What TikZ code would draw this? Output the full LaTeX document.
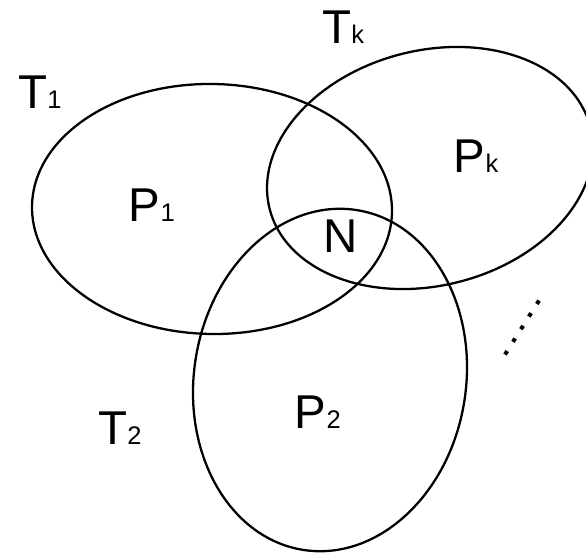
\documentclass[tikz,border=0pt]{standalone}
\usepackage{fontspec}
\setmainfont{Liberation Sans}

\newcommand{\subidx}[1]{{\fontsize{14.5pt}{14.5pt}\selectfont #1}}

\begin{document}
\begin{tikzpicture}[
    set/.style={line width=1.3pt},
    lbl/.style={font=\fontsize{27pt}{27pt}\selectfont, inner sep=0pt, anchor=base west}]
    \useasboundingbox (0,0) rectangle (11.72,11.06);
    \clip (0,0) rectangle (11.72,11.06);

    \coordinate (C1) at (4.24,6.88);
    \coordinate (C2) at (6.60,3.46);
    \coordinate (Ck) at (8.60,7.70);

    \draw[set, rotate around={-1:(C1)}]   (C1) ellipse (3.60 and 2.50);
    \draw[set, rotate around={-9:(C2)}]   (C2) ellipse (2.72 and 3.44);
    \draw[set, rotate around={14.4:(Ck)}] (Ck) ellipse (3.31 and 2.35);

    \coordinate (D1) at (10.10,3.97);
    \coordinate (D2) at (10.80,5.08);
    \draw[line width=2.3pt, dash pattern=on 2.3pt off 6.2pt] (D1) -- (D2);

    \node[lbl] (t1) at (0.36,8.88) {T\subidx{1}};
    \node[lbl] (tk) at (6.44,10.18) {T\subidx{k}};
    \node[lbl] (t2) at (1.96,2.16) {T\subidx{2}};
    \node[lbl] (p1) at (2.57,6.62) {P\subidx{1}};
    \node[lbl] (pk) at (9.07,7.60) {P\subidx{k}};
    \node[lbl] (p2) at (5.89,2.48) {P\subidx{2}};
    \node[lbl] (n)  at (6.47,6.00) {N};
\end{tikzpicture}
\end{document}
